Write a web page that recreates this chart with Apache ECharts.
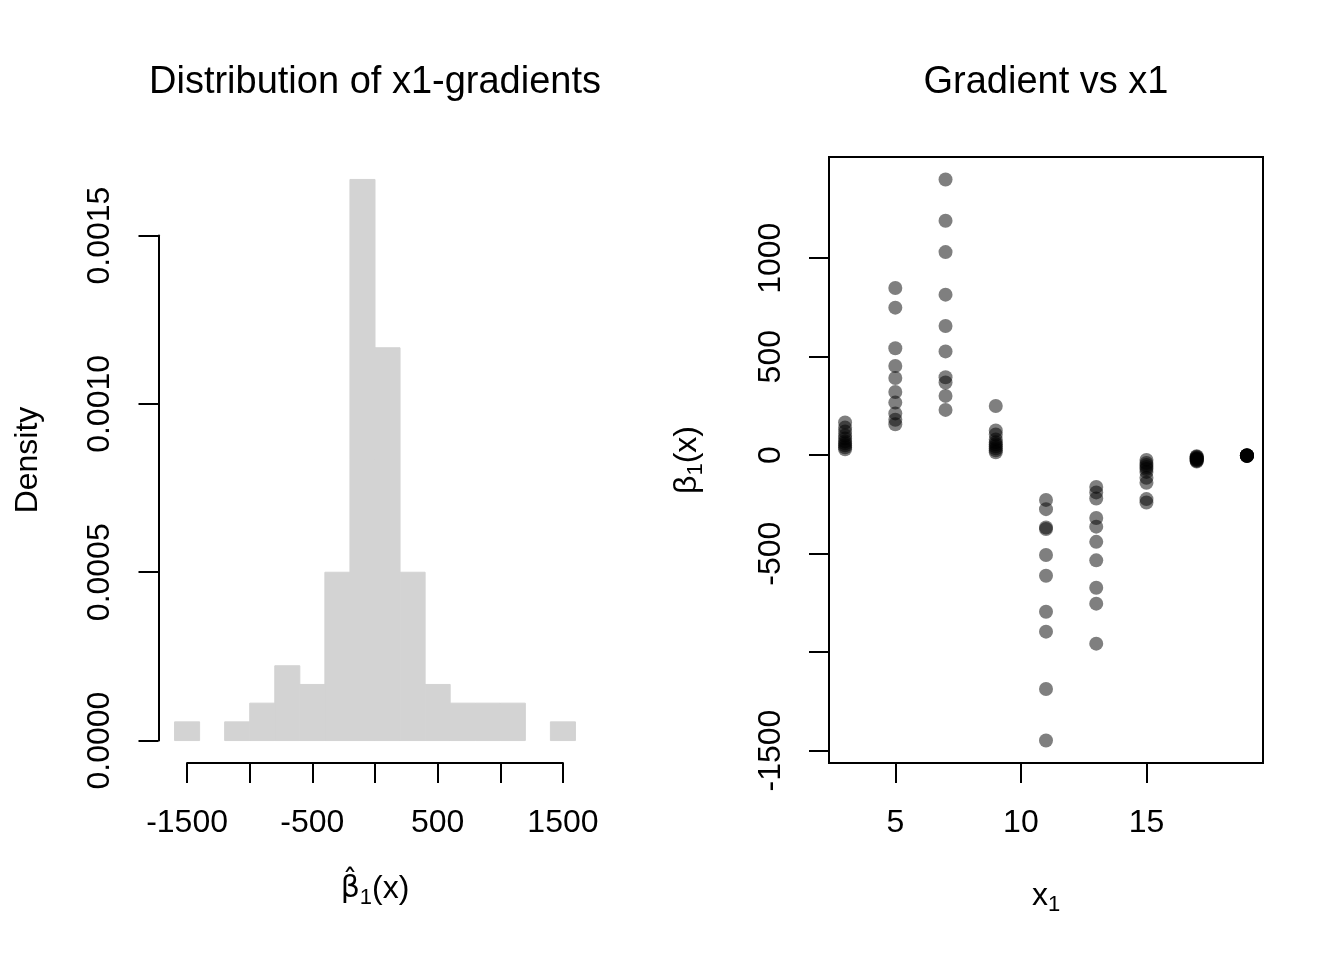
<!DOCTYPE html>
<html>
<head>
<meta charset="utf-8">
<script src="https://cdn.jsdelivr.net/npm/echarts@6/dist/echarts.min.js"></script>
<style>
  html, body { margin: 0; padding: 0; background: #fff; }
  #main { width: 1344px; height: 960px; }
</style>
</head>
<body>
<div id="main"></div>
<script>
// histogram of the x1-gradients (counts per bin of width 200)
var binEdges = [-1600, -1400, -1200, -1000, -800, -600, -400, -200, 0, 200, 400, 600, 800, 1000, 1200, 1400, 1600];
var binCounts = [1, 0, 1, 2, 4, 3, 9, 30, 21, 9, 3, 2, 2, 2, 0, 1];
var histTicks = [-1500, -1000, -500, 0, 500, 1000, 1500];
var histTickLabels = [-1500, -500, 500, 1500];
var densityTicks = [0, 0.0005, 0.001, 0.0015];

// gradient vs x1, one list per x1 level
var x1Levels = [3, 5, 7, 9, 11, 13, 15, 17, 19];
var grad3 = [166, 140, 120, 100, 85, 70, 60, 50, 40, 30];
var grad5 = [849, 749, 543, 453, 392, 321, 267, 212, 180, 157];
var grad7 = [1400, 1190, 1031, 815, 656, 527, 396, 369, 301, 230];
var grad9 = [250, 125, 105, 80, 65, 55, 45, 35, 25, 15];
var grad11 = [-227, -274, -367, -375, -507, -612, -795, -896, -1187, -1449];
var grad13 = [-161, -189, -220, -319, -363, -440, -534, -673, -754, -957];
var grad15 = [-24, -40, -50, -60, -70, -85, -115, -140, -223, -240];
var grad17 = [-5, -8, -12, -15, -18, -20, -23, -26, -29, -32];
var grad19 = [-0.5, -1, -1.5, -2, -2, -2.5, -3, -3, -3.5, -4];
var scatterTicksX = [5, 10, 15];
var scatterTicksY = [-1500, -1000, -500, 0, 500, 1000];
var scatterLabelsY = [-1500, -500, 0, 500, 1000];

var FONT = '"Liberation Sans", Arial, sans-serif';
var gradByLevel = [grad3, grad5, grad7, grad9, grad11, grad13, grad15, grad17, grad19];

// histogram as densities
var total = binCounts.reduce(function (a, b) { return a + b; }, 0);
var histData = [];
binCounts.forEach(function (c, i) {
    if (c > 0) {
        var w = binEdges[i + 1] - binEdges[i];
        histData.push([binEdges[i], binEdges[i + 1], c / (total * w)]);
    }
});

var scatterData = [];
x1Levels.forEach(function (x, i) {
    gradByLevel[i].forEach(function (g) { scatterData.push([x, g]); });
});

// R style 4% padding of the ranges
function padRange(lo, hi) {
    var d = (hi - lo) * 0.04;
    return [lo - d, hi + d];
}
var hx = padRange(binEdges[0], binEdges[binEdges.length - 1]);
var maxDens = Math.max.apply(null, histData.map(function (d) { return d[2]; }));
var hy = padRange(0, maxDens);
var allX = scatterData.map(function (d) { return d[0]; });
var allY = scatterData.map(function (d) { return d[1]; });
var sx = padRange(Math.min.apply(null, allX), Math.max.apply(null, allX));
var sy = padRange(Math.min.apply(null, allY), Math.max.apply(null, allY));

// plot regions
var L = { left: 158.5, top: 157, width: 433, height: 606 };
var R = { left: 829, top: 157, width: 434, height: 606 };

function hPx(v) { return L.left + L.width * (v - hx[0]) / (hx[1] - hx[0]); }
function hPy(v) { return L.top + L.height * (hy[1] - v) / (hy[1] - hy[0]); }

var xAxGrid = { left: hPx(histTicks[0]), width: hPx(histTicks[histTicks.length - 1]) - hPx(histTicks[0]), top: L.top, height: L.height };
var yAxGrid = { left: L.left, width: L.width, top: hPy(densityTicks[densityTicks.length - 1]), height: hPy(0) - hPy(densityTicks[densityTicks.length - 1]) };

var lineSt = { color: '#000', width: 2 };
var labelSt = { color: '#000', fontSize: 32, fontFamily: FONT, margin: 44 };
var nameSt = {
    color: '#000', fontSize: 32, fontFamily: FONT,
    rich: {
        b: { fontSize: 32, fontFamily: FONT, color: '#000', lineHeight: 40 },
        s: { fontSize: 22, fontFamily: FONT, color: '#000', lineHeight: 12, verticalAlign: 'bottom' },
        // DejaVu places the combining hat over beta properly
        d: { fontSize: 30, fontFamily: '"DejaVu Sans"', color: '#000', lineHeight: 40 }
    }
};
function plainNum(v) { return String(v); }

var chart = echarts.init(document.getElementById('main'), null, { renderer: 'canvas' });

var titleSt = { fontSize: 38, fontWeight: 'normal', color: '#000', fontFamily: FONT };
var option = {
    animation: false,
    backgroundColor: '#fff',
    title: [
        { text: 'Distribution of x1-gradients', left: 375, top: 64, textAlign: 'center', padding: 0, textStyle: titleSt },
        { text: 'Gradient vs x1', left: 1046, top: 64, textAlign: 'center', padding: 0, textStyle: titleSt }
    ],
    grid: [
        { left: L.left, top: L.top, width: L.width, height: L.height },
        xAxGrid,
        yAxGrid,
        { left: R.left, top: R.top, width: R.width, height: R.height, show: true,
          borderColor: '#000', borderWidth: 2 }
    ],
    xAxis: [
        { gridIndex: 0, type: 'value', min: hx[0], max: hx[1],
          axisLine: { show: false, onZero: false }, axisTick: { show: false }, axisLabel: { show: false }, splitLine: { show: false },
          name: '{d|β̂}{s|1}{b|(x)}', nameLocation: 'middle', nameGap: 106, nameTextStyle: nameSt },
        { gridIndex: 1, type: 'value', min: histTicks[0], max: histTicks[histTicks.length - 1],
          axisLine: { show: true, onZero: false, lineStyle: lineSt },
          axisTick: { show: true, length: 20, lineStyle: lineSt, customValues: histTicks },
          axisLabel: Object.assign({ customValues: histTickLabels, formatter: plainNum, showMinLabel: true, showMaxLabel: true }, labelSt),
          splitLine: { show: false } },
        { gridIndex: 2, type: 'value', show: false },
        { gridIndex: 3, type: 'value', min: sx[0], max: sx[1],
          axisLine: { show: false, onZero: false },
          axisTick: { show: true, length: 20, lineStyle: lineSt, customValues: scatterTicksX },
          axisLabel: Object.assign({ customValues: scatterTicksX, formatter: plainNum }, labelSt),
          splitLine: { show: false },
          name: '{b|x}{s|1}', nameLocation: 'middle', nameGap: 113, nameTextStyle: nameSt }
    ],
    yAxis: [
        { gridIndex: 0, type: 'value', min: hy[0], max: hy[1],
          axisLine: { show: false, onZero: false }, axisTick: { show: false }, axisLabel: { show: false }, splitLine: { show: false },
          name: 'Density', nameLocation: 'middle', nameGap: 114,
          nameTextStyle: { color: '#000', fontSize: 32, fontFamily: FONT } },
        { gridIndex: 1, type: 'value', show: false },
        { gridIndex: 2, type: 'value', min: densityTicks[0], max: densityTicks[densityTicks.length - 1],
          axisLine: { show: true, onZero: false, lineStyle: lineSt },
          axisTick: { show: true, length: 20, lineStyle: lineSt, customValues: densityTicks },
          axisLabel: Object.assign({ customValues: densityTicks, rotate: 90, showMinLabel: true, showMaxLabel: true,
              formatter: function (v) { return v.toFixed(4); } }, labelSt, { margin: 42 }),
          splitLine: { show: false } },
        { gridIndex: 3, type: 'value', min: sy[0], max: sy[1],
          axisLine: { show: false, onZero: false },
          axisTick: { show: true, length: 20, lineStyle: lineSt, customValues: scatterTicksY },
          axisLabel: Object.assign({ customValues: scatterLabelsY, rotate: 90, formatter: plainNum }, labelSt, { margin: 42 }),
          splitLine: { show: false },
          name: '{b|β}{s|1}{b|(x)}', nameLocation: 'middle', nameGap: 122, nameTextStyle: nameSt }
    ],
    series: [
        {
            type: 'custom',
            xAxisIndex: 0, yAxisIndex: 0,
            data: histData,
            encode: { x: [0, 1], y: 2 },
            renderItem: function (params, api) {
                var p0 = api.coord([api.value(0), 0]);
                var p1 = api.coord([api.value(1), api.value(2)]);
                return {
                    type: 'rect',
                    shape: { x: p0[0], y: p1[1], width: p1[0] - p0[0], height: p0[1] - p1[1] },
                    style: { fill: '#d3d3d3', stroke: '#d3d3d3', lineWidth: 1 }
                };
            }
        },
        {
            type: 'scatter',
            xAxisIndex: 3, yAxisIndex: 3,
            data: scatterData,
            symbol: 'circle',
            symbolSize: 14,
            itemStyle: { color: 'rgba(0,0,0,0.5)', opacity: 1 }
        }
    ]
};

chart.setOption(option);
window.onresize = function () { chart.resize(); };
</script>
</body>
</html>
